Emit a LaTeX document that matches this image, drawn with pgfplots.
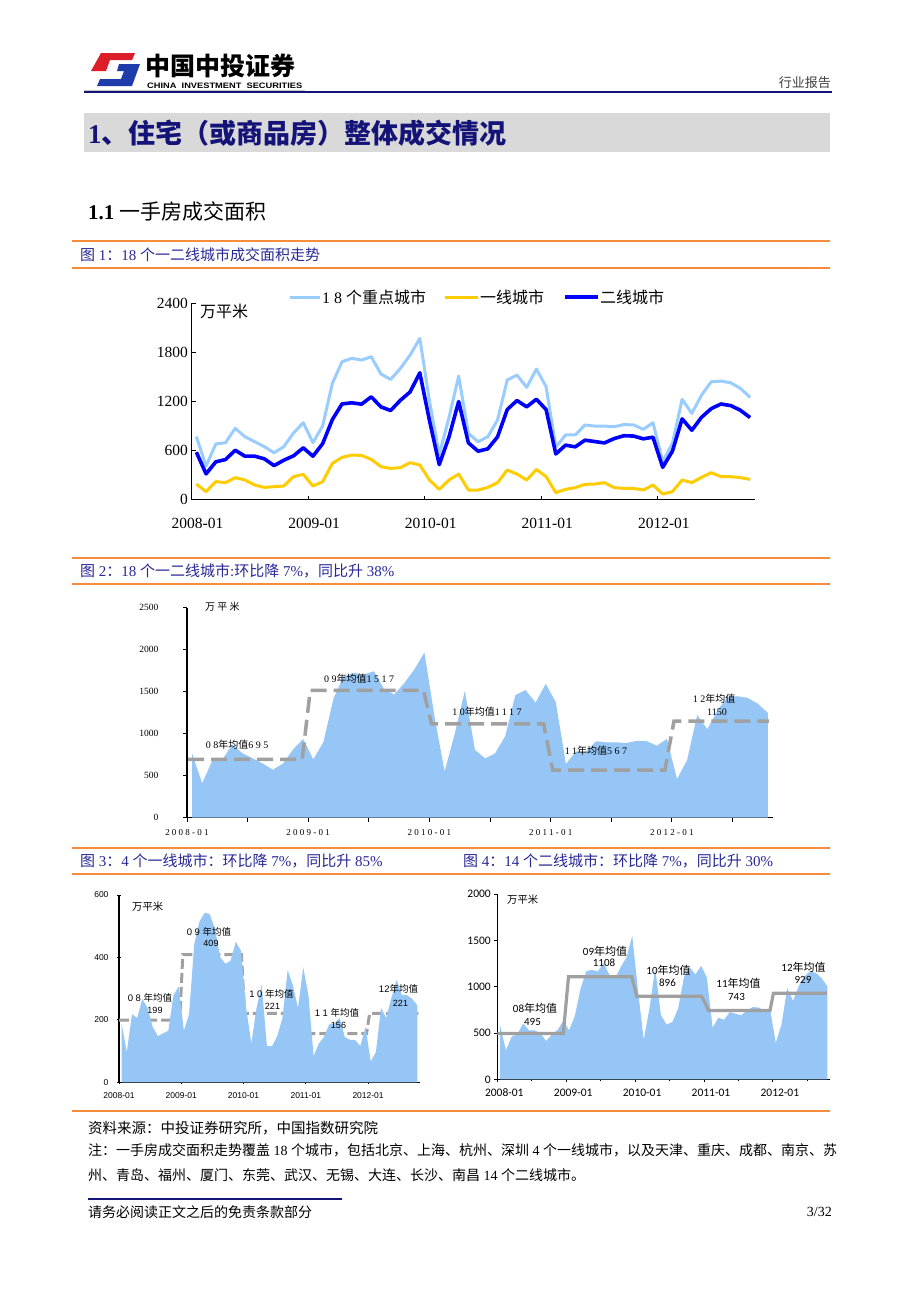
\documentclass[border=0pt]{standalone}
\usepackage{graphicx}
\usepackage{pgfplots}
\pgfplotsset{compat=1.18}
\usepackage{pgfplotstable}
\usepackage{fontspec}
\setmainfont{Liberation Serif}
\newfontfamily\cjk{Noto Sans CJK SC}
\newfontfamily\lsans{Liberation Sans}
\newfontfamily\carl{Carlito}
\newfontfamily\spser{Liberation Serif}[LetterSpace=25]
\newcommand\fs[1]{\fontsize{#1}{#1}\selectfont}

\definecolor{lbc}{RGB}{153,204,255}
\definecolor{ylc}{RGB}{255,204,0}
\definecolor{blc}{RGB}{0,0,255}
\definecolor{areac}{RGB}{150,198,245}
\definecolor{stepc}{RGB}{160,160,160}
\definecolor{orangec}{RGB}{247,140,60}
\definecolor{capc}{RGB}{40,40,150}
\definecolor{navy}{RGB}{20,20,120}
\definecolor{titlebg}{RGB}{217,217,217}
\definecolor{logored}{RGB}{220,30,40}
\definecolor{logoblue}{RGB}{30,60,170}

\pgfplotstableread{
x lb y b
0.5 767 189 578
1.5 409 96 313
2.5 678 218 460
3.5 694 206 488
4.5 869 267 602
5.5 767 238 529
6.5 706 177 529
7.5 645 148 497
8.5 571 157 414
9.5 645 165 480
10.5 812 279 533
11.5 938 307 631
12.5 694 165 529
13.5 900 218 682
14.5 1419 442 977
15.5 1683 515 1168
16.5 1724 543 1181
17.5 1703 539 1164
18.5 1744 490 1254
19.5 1532 401 1131
20.5 1467 380 1087
21.5 1601 389 1212
22.5 1764 450 1314
23.5 1968 421 1547
24.5 1200 238 962
25.5 550 124 426
26.5 1000 238 762
27.5 1508 311 1197
28.5 808 116 692
29.5 706 116 590
30.5 767 148 619
31.5 971 206 765
32.5 1459 360 1099
33.5 1520 311 1209
34.5 1370 238 1132
35.5 1593 368 1225
36.5 1377 279 1098
37.5 640 84 556
38.5 788 124 664
39.5 788 145 643
40.5 910 185 725
41.5 897 189 708
42.5 897 206 691
43.5 889 145 744
44.5 915 136 779
45.5 911 136 775
46.5 857 116 741
47.5 938 177 761
48.5 460 67 393
49.5 686 96 590
50.5 1223 238 985
51.5 1052 206 846
52.5 1276 271 1005
53.5 1438 328 1110
54.5 1446 279 1167
55.5 1426 279 1147
56.5 1357 267 1090
57.5 1247 246 1001
}\datatab

\pgfplotsset{
  noarrows/.style={
    every non boxed x axis/.append style={x axis line style=-},
    every non boxed y axis/.append style={y axis line style=-},
    axis x line=bottom, axis y line=left, axis line style={-},
    scale only axis, anchor=south west, clip=false,
  }
}

\begin{document}
\begin{tikzpicture}
\path[use as bounding box, fill=white] (0,0) rectangle (920pt,-1302pt);

% ---------- header ----------
\fill[logored] (101pt,-53pt) -- (135pt,-53pt) -- (132pt,-60pt) -- (110pt,-60pt) -- (106pt,-71pt) -- (91pt,-71pt) -- cycle;
\fill[logoblue] (119pt,-64pt) -- (140pt,-64pt) -- (132pt,-86pt) -- (97pt,-86pt) -- (100pt,-79pt) -- (121pt,-79pt) -- (124pt,-71pt) -- (117pt,-71pt) -- cycle;
\node[anchor=west, inner sep=0] at (145pt,-66pt) {\cjk\bfseries\fs{25}中国中投证券};
\node[anchor=west, inner sep=0] at (147pt,-85.5pt) {\resizebox{155pt}{5.5pt}{\lsans\bfseries CHINA\ \ INVESTMENT\ \ SECURITIES}};
\fill[gray!45] (84pt,-90pt) rectangle (305pt,-91.2pt);
\draw[navy, line width=1.4pt] (84pt,-92pt) -- (832pt,-92pt);
\node[anchor=east, inner sep=0] at (831pt,-83pt) {\cjk\fs{13}\color{black!75}行业报告};

% ---------- title ----------
\fill[titlebg] (84pt,-113pt) rectangle (830pt,-152pt);
\node[anchor=west, inner sep=0, text=navy] at (88pt,-133pt) {\fs{27}\bfseries 1{\cjk\bfseries 、住宅（或商品房）整体成交情况}};
\node[anchor=west, inner sep=0] at (88pt,-211pt) {\fs{21}\textbf{1.1} {\cjk 一手房成交面积}};

% ---------- orange rules and captions ----------
\foreach \yy in {241,268,558,584,848,874,1111}{
  \draw[orangec, line width=1.6pt] (72pt,-\yy pt) -- (830pt,-\yy pt);
}
\node[anchor=west, inner sep=0, text=capc] at (80pt,-254.5pt) {\fs{15}{\cjk 图} 1{\cjk ：}18 {\cjk 个一二线城市成交面积走势}};
\node[anchor=west, inner sep=0, text=capc] at (80pt,-571pt) {\fs{15}{\cjk 图} 2{\cjk ：}18 {\cjk 个一二线城市}:{\cjk 环比降} 7\%{\cjk ，同比升} 38\%};
\node[anchor=west, inner sep=0, text=capc] at (80pt,-861pt) {\fs{15}{\cjk 图} 3{\cjk ：}4 {\cjk 个一线城市：环比降} 7\%{\cjk ，同比升} 85\%};
\node[anchor=west, inner sep=0, text=capc] at (463pt,-861pt) {\fs{15}{\cjk 图} 4{\cjk ：}14 {\cjk 个二线城市：环比降} 7\%{\cjk ，同比升} 30\%};

% ---------- chart 1 ----------
\begin{axis}[noarrows,
  at={(191.5pt,-499.5pt)}, width=563.5pt, height=196.5pt,
  xmin=0, xmax=58, ymin=0, ymax=2400,
  xtick={0,12,24,36,48}, xticklabels={2008-01,2009-01,2010-01,2011-01,2012-01},
  ytick={0,600,1200,1800,2400}, yticklabels={0,600,1200,1800,2400},
  tick align=inside, major tick length=4pt,
  tick style={black, line width=0.8pt},
  axis line style={black, line width=0.9pt},
  ticklabel style={font=\fs{15.5}},
  xticklabel style={xshift=6pt, yshift=-15pt},
]
\addplot[lbc, line width=3pt, line join=round] table[x=x,y=lb]{\datatab};
\addplot[ylc, line width=3pt, line join=round] table[x=x,y=y]{\datatab};
\addplot[blc, line width=3.6pt, line join=round] table[x=x,y=b]{\datatab};
\end{axis}
\draw[lbc, line width=3pt] (290pt,-297pt) -- (320pt,-297pt);
\node[anchor=west, inner sep=0] at (322pt,-297pt) {\fs{16}1 8 {\cjk 个重点城市}};
\draw[ylc, line width=3pt] (445pt,-297pt) -- (478pt,-297pt);
\node[anchor=west, inner sep=0] at (480pt,-297pt) {\cjk\fs{16}一线城市};
\draw[blc, line width=3.6pt] (565pt,-297pt) -- (598pt,-297pt);
\node[anchor=west, inner sep=0] at (600pt,-297pt) {\cjk\fs{16}二线城市};
\node[anchor=west, inner sep=0] at (200pt,-311pt) {\cjk\fs{16}万平米};

% ---------- chart 2 ----------
\begin{axis}[noarrows,
  at={(187pt,-817.7pt)}, width=586pt, height=210pt,
  xmin=0, xmax=58, ymin=0, ymax=2500,
  xtick={0,6,...,54}, xticklabels={2008-01,,2009-01,,2010-01,,2011-01,,2012-01,},
  ytick={0,500,...,2500}, yticklabels={0,500,1000,1500,2000,2500},
  tick align=outside, major tick length=4pt,
  tick style={black, line width=1pt},
  x axis line style={black, line width=1.5pt},
  y axis line style={black, line width=2.2pt},
  xticklabel style={font=\spser\fs{9}, yshift=-4pt},
  yticklabel style={font=\fs{9.5}, xshift=-21pt},
]
\addplot[fill=areac, draw=none] table[x=x,y=lb]{\datatab} \closedcycle;
\addplot[stepc, line width=3.5pt, dash pattern=on 16pt off 7pt] coordinates {
 (0.1,695) (11.4,695) (12.2,1517) (23.4,1517) (24.2,1117) (35.3,1117) (36.2,567) (47.3,567) (48.2,1150) (57.6,1150)};
\end{axis}
\node[anchor=west, inner sep=0] at (205pt,-607pt) {\cjk\fs{10}万 平 米};
\node[inner sep=0] at (237pt,-745pt) {\fs{10}\spser 08{\cjk 年均值}695};
\node[inner sep=0] at (359pt,-678.5pt) {\fs{10}\spser 09{\cjk 年均值}1517};
\node[inner sep=0] at (487pt,-712pt) {\fs{10}\spser 10{\cjk 年均值}1117};
\node[inner sep=0] at (596pt,-750.5pt) {\fs{10}\spser 11{\cjk 年均值}567};
\node[inner sep=0] at (714pt,-699pt) {\fs{10}\spser 12{\cjk 年均值}};
\node[inner sep=0] at (717pt,-712pt) {\fs{10}1150};

% ---------- chart 3 ----------
\begin{axis}[noarrows,
  at={(119pt,-1082.3pt)}, width=301pt, height=187.3pt,
  xmin=0, xmax=58, ymin=0, ymax=600,
  xtick={0,12,24,36,48}, xticklabels={2008-01,2009-01,2010-01,2011-01,2012-01},
  ytick={0,200,400,600}, yticklabels={0,200,400,600},
  tick align=center, major tick length=4pt,
  tick style={black, line width=0.8pt},
  axis line style={black, line width=1.3pt},
  ticklabel style={font=\lsans\fs{8.5}},
  yticklabel style={xshift=-5pt},
  xticklabel style={yshift=-5pt},
]
\addplot[stepc, line width=3pt, dash pattern=on 10pt off 4pt] coordinates {
 (0,199) (11.7,199) (12.3,409) (23.6,409) (24.2,221) (36.1,221) (36.7,156) (47.7,156) (48.3,221) (57.7,221)};
\addplot[fill=areac, draw=none] table[x=x,y=y]{\datatab} \closedcycle;
\end{axis}
\node[anchor=west, inner sep=0] at (132pt,-907pt) {\cjk\fs{10.3}万平米};
\node[inner sep=0] at (150pt,-998pt) {\cjk\fs{9.5}{\lsans 0 8 }年均值};
\node[inner sep=0] at (155pt,-1010pt) {\lsans\fs{9}199};
\node[inner sep=0] at (209pt,-932pt) {\cjk\fs{9.5}{\lsans 0 9 }年均值};
\node[inner sep=0] at (211pt,-943pt) {\lsans\fs{9}409};
\node[inner sep=0] at (271.5pt,-994pt) {\cjk\fs{9.5}{\lsans 1 0 }年均值};
\node[inner sep=0] at (272.5pt,-1006pt) {\lsans\fs{9}221};
\node[inner sep=0] at (337pt,-1013pt) {\cjk\fs{9.5}{\lsans 1 1 }年均值};
\node[inner sep=0] at (338.5pt,-1025pt) {\lsans\fs{9}156};
\node[inner sep=0] at (398.5pt,-989pt) {\cjk\fs{9.5}{\lsans 12}年均值};
\node[inner sep=0] at (400.5pt,-1003pt) {\lsans\fs{9}221};

% ---------- chart 4 ----------
\begin{axis}[noarrows,
  at={(497.3pt,-1079.3pt)}, width=333pt, height=185.3pt,
  xmin=0, xmax=58, ymin=0, ymax=2000,
  xtick={0,12,24,36,48}, xticklabels={2008-01,2009-01,2010-01,2011-01,2012-01},
  minor xtick={6,18,30,42,54},
  ytick={0,500,...,2000}, yticklabels={0,500,1000,1500,2000},
  tick align=outside, major tick length=3pt, minor tick length=2pt,
  tick style={black, line width=0.8pt},
  axis line style={black, line width=1.4pt},
  ticklabel style={font=\carl\fs{11.5}},
  xticklabel style={xshift=7pt, yshift=-3pt},
]
\addplot[fill=areac, draw=none] table[x=x,y=b]{\datatab} \closedcycle;
\addplot[stepc, line width=3.2pt] coordinates {
 (0,495) (11.5,495) (12.4,1108) (23.4,1108) (24.3,896) (35.6,896) (36.8,743) (47.5,743) (48.1,929) (57.4,929)};
\end{axis}
\node[anchor=west, inner sep=0] at (507pt,-900pt) {\cjk\fs{10.3}万平米};
\node[inner sep=0] at (535pt,-1008pt) {\cjk\fs{11}{\carl 08}年均值};
\node[inner sep=0] at (532.5pt,-1022pt) {\carl\fs{11}495};
\node[inner sep=0] at (605pt,-951pt) {\cjk\fs{11}{\carl 09}年均值};
\node[inner sep=0] at (604pt,-963pt) {\carl\fs{11}1108};
\node[inner sep=0] at (668.5pt,-970pt) {\cjk\fs{11}{\carl 10}年均值};
\node[inner sep=0] at (667.5pt,-983pt) {\carl\fs{11}896};
\node[inner sep=0] at (738.5pt,-983pt) {\cjk\fs{11}{\carl 11}年均值};
\node[inner sep=0] at (736.5pt,-997pt) {\carl\fs{11}743};
\node[inner sep=0] at (803.5pt,-967pt) {\cjk\fs{11}{\carl 12}年均值};
\node[inner sep=0] at (803pt,-980pt) {\carl\fs{11}929};

% ---------- notes ----------
\node[anchor=west, inner sep=0] at (88pt,-1128pt) {\cjk\fs{14.5}资料来源：中投证券研究所，中国指数研究院};
\node[anchor=west, inner sep=0] at (88pt,-1150pt) {\fs{14}{\cjk 注：一手房成交面积走势覆盖} 18 {\cjk 个城市，包括北京、上海、杭州、深圳} 4 {\cjk 个一线城市，以及天津、重庆、成都、南京、苏}};
\node[anchor=west, inner sep=0] at (88pt,-1175pt) {\fs{14}{\cjk 州、青岛、福州、厦门、东莞、武汉、无锡、大连、长沙、南昌} 14 {\cjk 个二线城市。}};
\draw[navy, line width=1.2pt] (88pt,-1199pt) -- (342pt,-1199pt);
\node[anchor=west, inner sep=0] at (88pt,-1212pt) {\cjk\fs{14}请务必阅读正文之后的免责条款部分};
\node[anchor=east, inner sep=0] at (832pt,-1212pt) {\fs{14}3/32};
\end{tikzpicture}
\end{document}
